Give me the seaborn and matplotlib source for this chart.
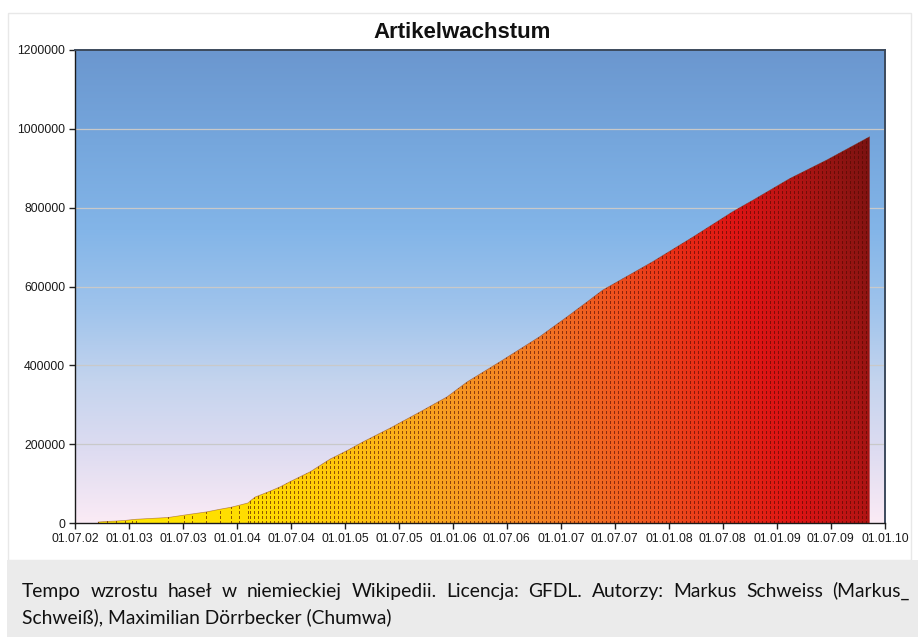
import numpy as np
import pandas as pd
import matplotlib
matplotlib.use("Agg")
import matplotlib.pyplot as plt
import matplotlib.dates as mdates
from matplotlib.colors import LinearSegmentedColormap
from matplotlib.patches import Rectangle
import seaborn as sns

# article counts of the German Wikipedia
dates = ["2002-09-17", "2002-10-17", "2002-11-17", "2002-12-17", "2003-01-10",
         "2003-01-24", "2003-05-12", "2003-07-05", "2003-08-01", "2003-09-18",
         "2003-11-04", "2003-12-11", "2004-01-07", "2004-02-07", "2004-02-14",
         "2004-03-02", "2004-04-22", "2004-05-26", "2004-06-28", "2004-09-04",
         "2004-11-10", "2005-01-10", "2005-03-02", "2005-06-02", "2005-09-11",
         "2005-12-11", "2006-02-17", "2006-06-08", "2006-10-21", "2007-01-21",
         "2007-03-30", "2007-05-22", "2007-11-07", "2008-03-23", "2008-08-04",
         "2008-10-11", "2009-02-13", "2009-06-18", "2009-11-10"]
articles = [2500, 4000, 5000, 6500, 8500,
            9500, 14000, 20000, 23000, 28000,
            35000, 40000, 45000, 51000, 56000,
            66000, 81000, 92000, 105000, 130000,
            162000, 185000, 206000, 241000, 282000,
            320000, 358000, 409000, 473000, 523000,
            561000, 591000, 663000, 726000, 790000,
            819000, 874000, 921000, 980000]

y_ticks = [0, 200000, 400000, 600000, 800000, 1000000, 1200000]
title = "Artikelwachstum"
caption1 = ("Tempo wzrostu haseł w niemieckiej Wikipedii. Licencja: GFDL.  "
            "Autorzy: Markus Schweiss (Markus_")
caption2 = "Schweiß), Maximilian Dörrbecker (Chumwa)"

df = pd.DataFrame({"date": pd.to_datetime(dates), "articles": articles})

sns.set_style("white")
plt.rcParams["font.family"] = ["Liberation Sans", "DejaVu Sans"]

fig = plt.figure(figsize=(9.18, 6.37), dpi=100)
ax = fig.add_axes([75 / 918, 1 - 523 / 637, 810 / 918, 473 / 637])

x0 = mdates.date2num(pd.Timestamp("2002-07-01"))
x1 = mdates.date2num(pd.Timestamp("2010-01-01"))
ymax = 1200000

# sky gradient behind the plot
bg = LinearSegmentedColormap.from_list("sky", [
    (0.0, "#fbebf5"), (0.15, "#dedcf1"), (0.30, "#c4d4ee"), (0.45, "#a0c4ec"),
    (0.62, "#83b5e8"), (0.80, "#76a7dd"), (1.0, "#6b97cf")])
ax.imshow(np.linspace(1, 0, 256).reshape(-1, 1), cmap=bg, aspect="auto",
          extent=[x0, x1, 0, ymax], zorder=0, interpolation="bilinear")

for v in y_ticks[1:-1]:
    ax.axhline(v, color="#c9c9c9", lw=0.9, zorder=1)

xs = mdates.date2num(df["date"])
poly = ax.fill_between(xs, 0, df["articles"], facecolor="none", linewidth=0, zorder=2)
clip = poly.get_paths()[0]

# yellow -> red -> maroon fill, clipped to the area
fillmap = LinearSegmentedColormap.from_list("heat", [
    (0.0, "#ffea00"), (0.20, "#ffdc00"), (0.30, "#ffc60c"), (0.37, "#fbb01a"),
    (0.44, "#f79a22"), (0.55, "#f27824"), (0.65, "#ee501e"), (0.73, "#e72c16"),
    (0.80, "#dc1414"), (0.86, "#bc1414"), (0.93, "#8e1412"), (1.0, "#661010")])
nx, ny = 400, 200
gx, gy = np.meshgrid(np.linspace(0, 1, nx), np.linspace(1, 0, ny))
t = (gx + 0.12 * gy) / 1.12
img = ax.imshow(t, cmap=fillmap, vmin=0, vmax=1, aspect="auto",
                extent=[x0, x1, 0, ymax], zorder=2, interpolation="bilinear")
img.set_clip_path(clip, transform=ax.transData)

# dotted drop lines: at each sparse early reading, then a dense texture
dash_col = (0.30, 0.04, 0.0, 0.62)
dash = (0, (2.2, 1.8))
ax.vlines(xs[:14], 0, df["articles"][:14], colors=[dash_col], linestyles=[dash],
          lw=0.9, zorder=3, antialiased=False)
days_per_px = (x1 - x0) / 810
tex_x = np.arange(xs[14], xs[-1] + 1, 4 * days_per_px)
tex = ax.vlines(tex_x, 0, ymax, colors=[dash_col], linestyles=[dash], lw=0.9,
                zorder=3, antialiased=False)
tex.set_clip_path(clip, transform=ax.transData)

sns.lineplot(x=xs, y=df["articles"], ax=ax, color="#7a2a10", lw=0.5, alpha=0.5, zorder=4)

ax.set_xlim(x0, x1)
ax.set_ylim(0, ymax)
ax.set_yticks(y_ticks)
ax.set_yticklabels([str(v) for v in y_ticks])
ax.xaxis.set_major_locator(mdates.MonthLocator(bymonth=[1, 7]))
ax.xaxis.set_major_formatter(mdates.DateFormatter("%d.%m.%y"))
ax.tick_params(axis="both", direction="out", length=4, width=1, color="#222222",
               labelsize=8.8, labelcolor="#1a1a1a", pad=3,
               bottom=True, left=True)
ax.set_xlabel("")
ax.set_ylabel("")
for side in ["left", "bottom"]:
    ax.spines[side].set_color("#1a1a1a")
    ax.spines[side].set_linewidth(1.0)
for side in ["top", "right"]:
    ax.spines[side].set_color("#3c4a5c")
    ax.spines[side].set_linewidth(1.4)

fig.text(462 / 918, 1 - 33 / 637, title, ha="center", va="center",
         fontsize=16, fontweight="bold", color="#111111")

# light frame and grey caption box
fig.patches.append(Rectangle((8 / 918, 1 - 560 / 637), 903 / 918, 547 / 637,
                             transform=fig.transFigure, facecolor="none",
                             edgecolor="#e8e8e8", lw=1, zorder=0))
fig.patches.append(Rectangle((7 / 918, 0), 911 / 918, 77 / 637,
                             transform=fig.transFigure, facecolor="#ebebeb",
                             edgecolor="none", zorder=0))

cap_font = dict(family=["Lato", "DejaVu Sans"], color="#111111")
renderer = fig.canvas.get_renderer()
t2 = fig.text(22 / 918, 1 - 623 / 637, caption2, ha="left", va="baseline",
              fontsize=13, **cap_font)
fs = 13 * 368 / t2.get_window_extent(renderer).width
t2.set_fontsize(fs)

# first caption line is justified across the box
words = caption1.split()
widths = []
for wd in words:
    tt = fig.text(0, 0, wd, fontsize=fs, **cap_font)
    widths.append(tt.get_window_extent(renderer).width)
    tt.remove()
gap = (888 - sum(widths)) / (len(words) - 1)
xpos = 22.0
for wd, wpx in zip(words, widths):
    fig.text(xpos / 918, 1 - 597 / 637, wd, ha="left", va="baseline",
             fontsize=fs, **cap_font)
    xpos += wpx + gap

fig.savefig("out.png", dpi=100)
